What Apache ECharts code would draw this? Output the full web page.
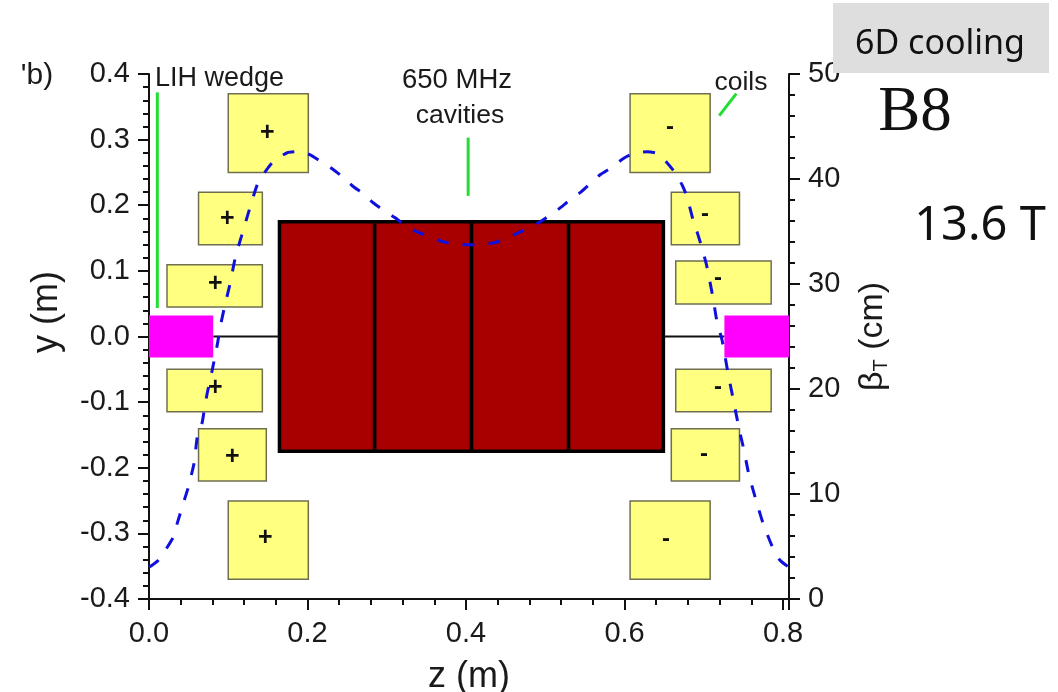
<!DOCTYPE html>
<html>
<head>
<meta charset="utf-8">
<style>html,body{margin:0;padding:0;background:#fff}#c{width:1058px;height:692px}</style>
<script src="https://cdn.jsdelivr.net/npm/echarts@6/dist/echarts.min.js"></script>
</head>
<body>
<div id="c"></div>
<script>
// each coil / wedge: [z start, z end, y top, y bottom] in metres
const coils = [
  [0.100,0.201,0.370,0.250],[0.0625,0.143,0.220,0.140],[0.0227,0.143,0.1095,0.045],
  [0.0227,0.143,-0.050,-0.1147],[0.0625,0.148,-0.1407,-0.220],[0.100,0.201,-0.2505,-0.370],
  [0.607,0.708,0.370,0.250],[0.659,0.745,0.220,0.140],[0.6646,0.785,0.115,0.0496],
  [0.6646,0.785,-0.050,-0.1147],[0.659,0.745,-0.1407,-0.220],[0.607,0.708,-0.2505,-0.370]
];
const wedges = [[0,0.081,0.032,-0.032],[0.726,0.8075,0.032,-0.032]];
const cavities = [
  [0.1646,0.2847,0.1747,-0.1747],[0.2847,0.407,0.1747,-0.1747],
  [0.407,0.5294,0.1747,-0.1747],[0.5294,0.649,0.1747,-0.1747]
];
const plusSigns = [[0.1492,0.3104],[0.0987,0.1793],[0.0836,0.0801],[0.0836,-0.0786],[0.105,-0.1838],[0.1466,-0.3074]];
const minusSigns = [[0.6574,0.3181],[0.7015,0.1854],[0.7180,0.0892],[0.7180,-0.0771],[0.7003,-0.1792],[0.6523,-0.3089]];
const beamPipeLeft = [[0.081,0],[0.1646,0]];
const beamPipeRight = [[0.649,0],[0.726,0]];
const pointerWedge = [[0.0105,0.372],[0.0105,0.0435]];
const pointerCavity = [[0.4027,0.303],[0.4027,0.2143]];
const pointerCoil = [[0.741,0.370],[0.7195,0.3365]];
const betaT = [
  [0,3.02],[0.0117,3.69],[0.0306,5.88],[0.0357,7.22],[0.0445,9.41],[0.0496,10.65],[0.0571,13.04],[0.0609,15.42],
  [0.0672,16.85],[0.0697,18.0],[0.0735,19.62],[0.0798,21.81],[0.0861,24.2],[0.0899,25.91],[0.095,27.72],[0.1025,30.11],
  [0.1088,32.49],[0.1164,34.49],[0.1277,37.35],[0.1366,39.45],[0.1466,40.69],[0.1567,41.65],[0.1744,42.5],[0.1883,42.6],
  [0.2034,42.3],[0.216,41.7],[0.2312,40.98],[0.2438,40.22],[0.2564,39.36],[0.2702,38.59],[0.2828,37.74],[0.2967,36.98],
  [0.3106,36.31],[0.3219,35.64],[0.3383,34.97],[0.3547,34.49],[0.3711,34.02],[0.3863,33.83],[0.4052,33.73],[0.419,33.83],
  [0.4354,33.92],[0.4518,34.39],[0.4657,34.87],[0.4796,35.35],[0.4935,35.92],[0.5048,36.49],[0.5187,37.25],[0.5313,38.02],
  [0.5452,38.78],[0.5565,39.54],[0.5691,40.4],[0.583,41.07],[0.5981,41.93],[0.6107,42.41],[0.6284,42.6],[0.6422,42.41],
  [0.6536,41.55],[0.6637,40.6],[0.6725,39.45],[0.6788,38.31],[0.6864,36.11],[0.6927,34.68],[0.6977,33.44],[0.7028,32.01],
  [0.7053,31.15],[0.7116,28.68],[0.7167,26.39],[0.7230,24.67],[0.7305,21.52],[0.7368,19.14],[0.7419,17.2],[0.7457,15.8],
  [0.7507,14.18],[0.7570,11.8],[0.7659,9.41],[0.7747,7.22],[0.7873,4.83],[0.7961,3.69],[0.8075,3.02]
];

const FONT = '"Liberation Sans", Arial, sans-serif';
const INK = '#1a1a1a';
const GREEN = '#22dd33';

function rectSeries(data, fill, stroke, lineWidth, z) {
  return {
    type: 'custom', data: data, clip: false, silent: true, z: z,
    encode: {x: [0, 1], y: [2, 3]},
    renderItem: function (params, api) {
      const a = api.coord([api.value(0), api.value(2)]);
      const b = api.coord([api.value(1), api.value(3)]);
      return {type: 'rect',
        shape: {x: a[0], y: a[1], width: b[0] - a[0], height: b[1] - a[1]},
        style: {fill: fill, stroke: stroke, lineWidth: lineWidth}};
    }
  };
}
function lineSeries(data, color, width, z) {
  return {type: 'line', data: data, symbol: 'none', silent: true, clip: false, z: z,
    lineStyle: {color: color, width: width}};
}
function signSeries(data, text, size, weight) {
  return {
    type: 'custom', data: data, clip: false, silent: true, z: 8,
    encode: {x: 0, y: 1},
    renderItem: function (params, api) {
      const p = api.coord([api.value(0), api.value(1)]);
      return {type: 'text', x: p[0], y: p[1],
        style: {text: text, fill: '#111', font: weight + ' ' + size + 'px ' + FONT, textAlign: 'center', textVerticalAlign: 'middle'}};
    }
  };
}
function axisCommon() {
  return {
    axisLine: {show: true, onZero: false, lineStyle: {color: '#111', width: 2}},
    axisTick: {show: true, length: 11, lineStyle: {color: '#111', width: 2}},
    minorTick: {show: true, splitNumber: 5, length: 6, lineStyle: {color: '#111', width: 2}},
    splitLine: {show: false}, minorSplitLine: {show: false},
    nameTextStyle: {color: INK, fontFamily: FONT, fontSize: 36}
  };
}

const chart = echarts.init(document.getElementById('c'), null, {renderer: 'canvas'});
const xAxisOption = Object.assign(axisCommon(), {
  type: 'value', min: 0, max: 0.8075, interval: 0.2,
  name: 'z (m)', nameLocation: 'middle', nameGap: 60,
  axisLabel: {color: INK, fontFamily: FONT, fontSize: 29, margin: 20, showMaxLabel: false,
    formatter: v => v.toFixed(1)}
});
const yLeftOption = Object.assign(axisCommon(), {
  type: 'value', min: -0.4, max: 0.4, interval: 0.1, position: 'left',
  name: 'y (m)', nameLocation: 'middle', nameGap: 84, nameRotate: 90,
  axisLabel: {color: INK, fontFamily: FONT, fontSize: 29, margin: 19, padding: [4, 0, 0, 0], formatter: v => v.toFixed(1)}
});
yLeftOption.nameTextStyle = {color: INK, fontFamily: FONT, fontSize: 36, padding: [0, 0, 0, 49]};
const yRightOption = Object.assign(axisCommon(), {
  type: 'value', min: 0, max: 50, interval: 10, position: 'right',
  name: '{a|β}{s|T}{a| (cm)}', nameLocation: 'middle', nameGap: 66, nameRotate: 90,
  axisLabel: {color: INK, fontFamily: FONT, fontSize: 29, margin: 19, padding: [3, 0, 0, 0]}
});
yRightOption.nameTextStyle = {rich: {
  a: {fontFamily: FONT, fontSize: 34, color: INK},
  s: {fontFamily: FONT, fontSize: 20, color: INK, verticalAlign: 'bottom', padding: [16, 0, 0, 0]}
}};
chart.setOption({
  animation: false,
  backgroundColor: '#fff',
  grid: {left: 149, top: 74, width: 640, height: 525, containLabel: false, outerBoundsMode: 'none'},
  xAxis: xAxisOption,
  yAxis: [yLeftOption, yRightOption],
  series: [
    rectSeries(coils, '#ffff80', '#6f6f50', 1.5, 3),
    rectSeries(cavities, '#a80000', '#000', 3.5, 4),
    rectSeries(wedges, '#ff00ff', 'none', 0, 5),
    lineSeries(beamPipeLeft, '#111', 2, 4),
    lineSeries(beamPipeRight, '#111', 2, 4),
    lineSeries(pointerWedge, GREEN, 3, 6),
    lineSeries(pointerCavity, GREEN, 3, 6),
    lineSeries(pointerCoil, GREEN, 3, 6),
    signSeries(plusSigns, '+', 25, 'bold'),
    signSeries(minusSigns, '-', 24, 'bold'),
    {type: 'line', yAxisIndex: 1, data: betaT, symbol: 'none', silent: true, clip: false, z: 7, smooth: 0.2,
      lineStyle: {color: '#1010dd', width: 3, type: [12, 14]}}
  ],
  graphic: [
    {type: 'rect', z: 100, shape: {x: 833, y: 3, width: 216, height: 70}, style: {fill: '#dedede'}},
    {type: 'text', z: 101, x: 940, y: 44, style: {text: '6D cooling', fill: '#111', font: '34px "Noto Sans", sans-serif', textAlign: 'center', textVerticalAlign: 'middle'}},
    {type: 'text', z: 101, x: 915, y: 113, style: {text: 'B8', fill: '#111', font: '63px "Liberation Serif", serif', textAlign: 'center', textVerticalAlign: 'middle'}},
    {type: 'text', z: 101, x: 980, y: 227, style: {text: '13.6 T', fill: '#111', font: '47px "Noto Sans", sans-serif', textAlign: 'center', textVerticalAlign: 'middle'}},
    {type: 'text', z: 101, x: 37, y: 76, style: {text: "'b)", fill: INK, font: '30px ' + FONT, textAlign: 'center', textVerticalAlign: 'middle'}},
    {type: 'text', z: 101, x: 155, y: 79, style: {text: 'LIH wedge', fill: INK, font: '27px ' + FONT, textAlign: 'left', textVerticalAlign: 'middle'}},
    {type: 'text', z: 101, x: 457, y: 80, style: {text: '650 MHz', fill: INK, font: '27.5px ' + FONT, textAlign: 'center', textVerticalAlign: 'middle'}},
    {type: 'text', z: 101, x: 460, y: 116, style: {text: 'cavities', fill: INK, font: '26.5px ' + FONT, textAlign: 'center', textVerticalAlign: 'middle'}},
    {type: 'text', z: 101, x: 741, y: 83, style: {text: 'coils', fill: INK, font: '26.5px ' + FONT, textAlign: 'center', textVerticalAlign: 'middle'}}
  ]
});
</script>
</body>
</html>
